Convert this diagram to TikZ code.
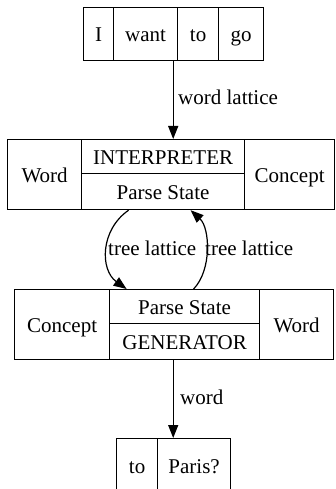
\documentclass[tikz,border=0pt]{standalone}
\usepackage{fontspec}
\setmainfont{Liberation Serif}
\usetikzlibrary{arrows.meta}
\begin{document}
\begin{tikzpicture}[x=1pt,y=-1pt,
  txt/.style={font=\fontsize{21}{25}\selectfont},
  rec/.style={inner sep=0pt,anchor=north west},
  field/.style={txt,text height=15pt,text depth=0pt,draw,line width=1.2pt,inner sep=0pt,anchor=north west},
  lbl/.style={txt,text height=13.9pt,text depth=4.5pt,inner sep=0pt,anchor=west},
  link/.style={line width=1.2pt,-{Triangle[length=13pt,width=10pt]}}]
\useasboundingbox (0,0) rectangle (335,489);

% input words
\node[rec,minimum width=180pt,minimum height=53pt] (input) at (83,7) {};
\node[field,minimum width=30pt,minimum height=53pt] (in1) at (83,7) {I};
\node[field,minimum width=64pt,minimum height=53pt] (in2) at (113,7) {want};
\node[field,minimum width=41pt,minimum height=53pt] (in3) at (177,7) {to};
\node[field,minimum width=45pt,minimum height=53pt] (in4) at (218,7) {go};

% interpreter
\node[rec,minimum width=327pt,minimum height=70pt] (interp) at (7,139) {};
\node[field,minimum width=74pt,minimum height=70pt] (iword) at (7,139) {Word};
\node[field,minimum width=163pt,minimum height=34pt] (iname) at (81,139) {INTERPRETER};
\node[field,minimum width=163pt,minimum height=36pt] (istate) at (81,173) {Parse State};
\node[field,minimum width=90pt,minimum height=70pt] (iconc) at (244,139) {Concept};

% generator
\node[rec,minimum width=319pt,minimum height=70pt] (gen) at (14,289) {};
\node[field,minimum width=95pt,minimum height=70pt] (gconc) at (14,289) {Concept};
\node[field,minimum width=150pt,minimum height=34pt] (gstate) at (109,289) {Parse State};
\node[field,minimum width=150pt,minimum height=36pt] (gname) at (109,323) {GENERATOR};
\node[field,minimum width=74pt,minimum height=70pt] (gword) at (259,289) {Word};

% output words
\node[rec,minimum width=114pt,minimum height=54pt] (output) at (116,438) {};
\node[field,minimum width=41pt,minimum height=54pt] (out1) at (116,438) {to};
\node[field,minimum width=73pt,minimum height=54pt] (out2) at (157,438) {Paris?};

% connectors
\draw[link] (input.south) -- (input.south |- interp.north);
\node[lbl] (l1) at (178,100) {word lattice};

\draw[link] ([xshift=-34.5pt]istate.south) .. controls (100,230) and (100,270) .. ([xshift=-58pt]gstate.north);
\node[lbl] (l2) at (108,251) {tree lattice};

\draw[link] ([xshift=9pt]gstate.north) .. controls (212,270) and (210,228) .. ([xshift=27.5pt]istate.south);
\node[lbl] (l3) at (205,251) {tree lattice};

\draw[link] (gen.south -| output.north) -- (output.north);
\node[lbl] (l4) at (180,400) {word};
\end{tikzpicture}
\end{document}
